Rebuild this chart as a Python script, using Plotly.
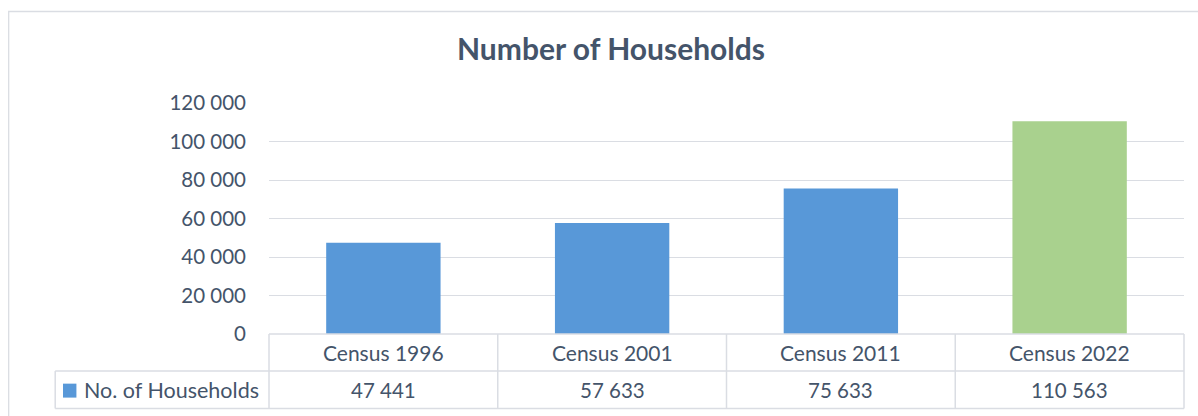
import plotly.graph_objects as go

categories = ["Census 1996", "Census 2001", "Census 2011", "Census 2022"]
households = [47441, 57633, 75633, 110563]
bar_colors = ["#5898d8", "#5898d8", "#5898d8", "#a9d18e"]
series_name = "No. of Households"
y_ticks = [0, 20000, 40000, 60000, 80000, 100000, 120000]

W, H = 1198, 416
PL, PR, PT, PB = 269.2, 1183.8, 102.8, 334.5
pw, ph = PR - PL, PB - PT

def px(xp):
    return (xp - PL) / pw

def py(yp):
    return (PB - yp) / ph

TXT = "#44546a"
LINE = "#dadde3"
FONT = "Lato"
FS = 20.5

fig = go.Figure()
fig.add_trace(go.Bar(
    x=categories, y=households, width=0.5,
    marker=dict(color=bar_colors, line=dict(width=0)),
    name=series_name, showlegend=False, hoverinfo="x+y",
))

shapes = []
# outer frame
shapes.append(dict(type="rect", xref="paper", yref="paper",
                   x0=px(9), x1=px(1215), y0=py(430), y1=py(11),
                   line=dict(color=LINE, width=1.3), fillcolor="rgba(0,0,0,0)", layer="below"))
n = len(categories)
row1_bot = 371.7
row2_bot = 409.3
# horizontal lines of data table
shapes.append(dict(type="line", xref="paper", yref="paper", x0=0, x1=1, y0=0, y1=0,
                   line=dict(color=LINE, width=1.5)))
shapes.append(dict(type="line", xref="paper", yref="paper", x0=px(55.5), x1=1,
                   y0=py(row1_bot), y1=py(row1_bot), line=dict(color=LINE, width=1.5)))
shapes.append(dict(type="line", xref="paper", yref="paper", x0=px(55.5), x1=1,
                   y0=py(row2_bot), y1=py(row2_bot), line=dict(color=LINE, width=1.5)))
# vertical lines
for i in range(n + 1):
    shapes.append(dict(type="line", xref="paper", yref="paper", x0=i / n, x1=i / n,
                       y0=0, y1=py(row2_bot), line=dict(color=LINE, width=1.5)))
shapes.append(dict(type="line", xref="paper", yref="paper", x0=px(55.5), x1=px(55.5),
                   y0=py(row1_bot), y1=py(row2_bot), line=dict(color=LINE, width=1.5)))
# legend key
shapes.append(dict(type="rect", xref="paper", yref="paper",
                   x0=px(63.3), x1=px(76.7), y0=py(398.3), y1=py(384.3),
                   line=dict(width=0), fillcolor="#5898d8"))

annotations = []
r1 = (PB + row1_bot) / 2
r2 = (row1_bot + row2_bot) / 2
for i, (c, v) in enumerate(zip(categories, households)):
    xc = (i + 0.5) / n
    annotations.append(dict(text=c, xref="paper", yref="paper", x=xc, y=py(r1),
                            xanchor="center", yanchor="middle", showarrow=False,
                            font=dict(size=21, color=TXT, family=FONT)))
    annotations.append(dict(text=f"{v:,}".replace(",", " "), xref="paper", yref="paper",
                            x=xc, y=py(r2), xanchor="center", yanchor="middle",
                            showarrow=False, font=dict(size=FS, color=TXT, family=FONT)))
annotations.append(dict(text=series_name, xref="paper", yref="paper", x=px(82), y=py(r2),
                        xanchor="left", yanchor="middle", showarrow=False,
                        font=dict(size=21.5, color=TXT, family=FONT)))

fig.update_layout(
    width=W, height=H,
    margin=dict(l=PL, r=W - PR, t=PT, b=H - PB, pad=0),
    paper_bgcolor="white", plot_bgcolor="white",
    separators=". ",
    title=dict(text="<b>Number of Households</b>", x=611 / W, xanchor="center",
               y=1 - 49 / H, yanchor="middle", xref="container", yref="container",
               font=dict(size=30, color=TXT, family=FONT)),
    xaxis=dict(showticklabels=False, showgrid=False, zeroline=False, showline=False,
               ticks="", range=[-0.5, n - 0.5]),
    yaxis=dict(range=[0, 120000], tickvals=y_ticks, tickformat=",d",
               showgrid=True, gridcolor=LINE, gridwidth=1.3, zeroline=False,
               showline=False, ticks="", ticklabelstandoff=22,
               tickfont=dict(size=FS, color=TXT, family=FONT)),
    shapes=shapes, annotations=annotations,
    bargap=0.5,
)
fig.write_html("out.html", config={"displayModeBar": False},
               post_script="document.body.style.margin='0';")
